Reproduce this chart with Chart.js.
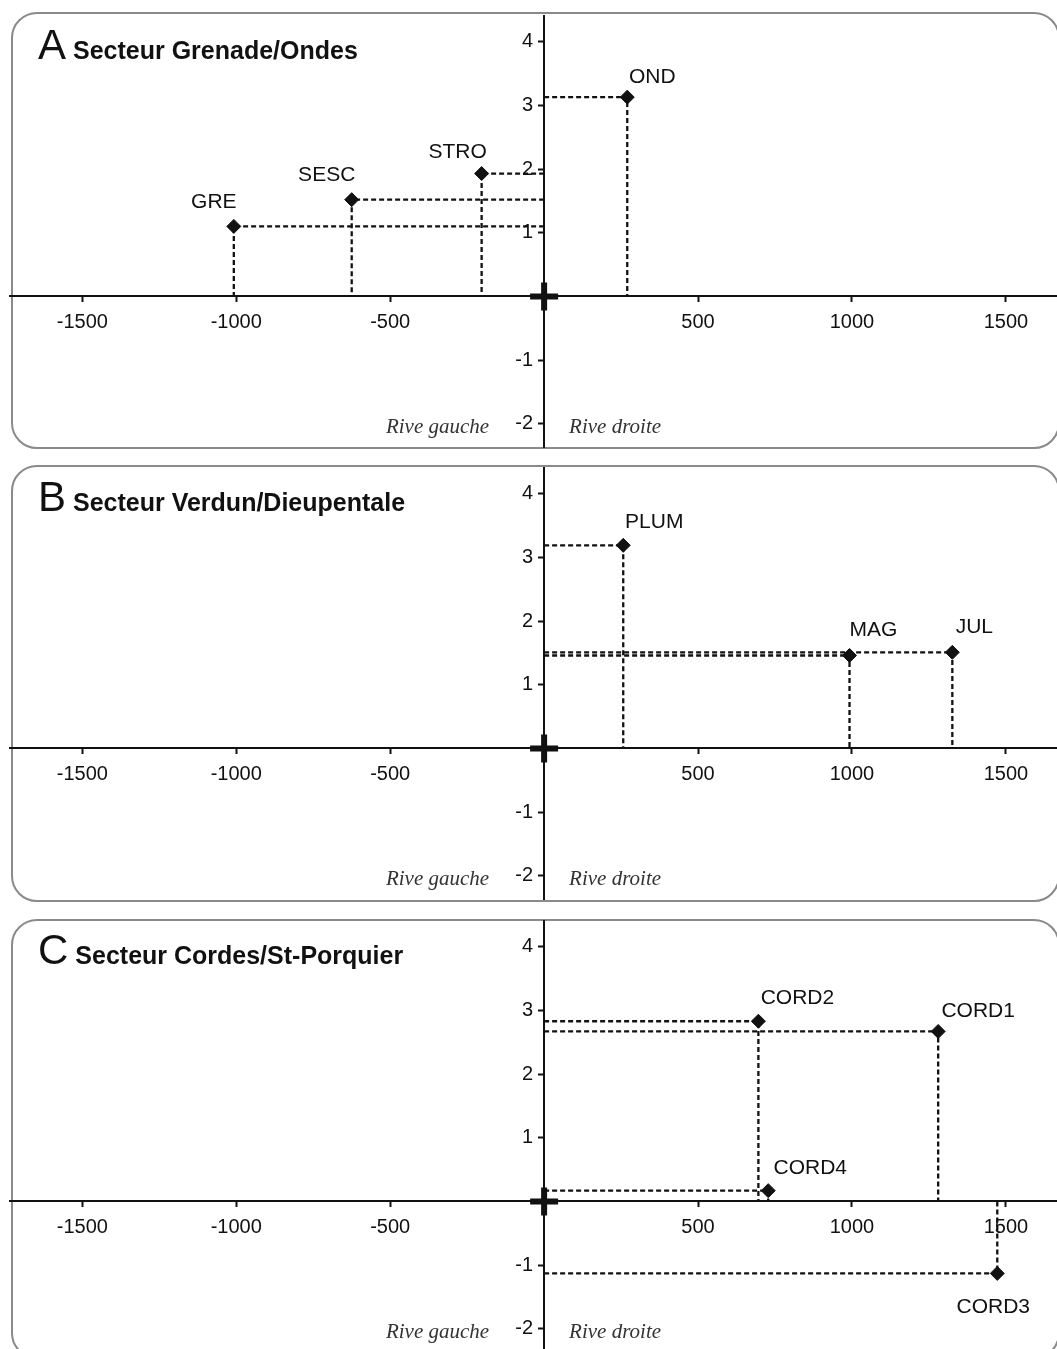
<!DOCTYPE html>
<html>
<head>
<meta charset="utf-8">
<script src="https://cdn.jsdelivr.net/npm/chart.js@4.4.1/dist/chart.umd.min.js"></script>
<style>
  body { margin: 0; background: #fff; width: 1057px; height: 1349px; overflow: hidden; position: relative; }
  .panel { position: absolute; left: 11px; width: 1049px; border: 2px solid #8a8a8a; border-radius: 26px; box-sizing: border-box; }
  canvas { position: absolute; left: 0; }
</style>
</head>
<body>
<div class="panel" style="top:12px;height:437px"></div>
<div class="panel" style="top:465px;height:437px"></div>
<div class="panel" style="top:919px;height:440px"></div>
<canvas id="chartA" width="1057" height="433" style="top:15px"></canvas>
<canvas id="chartB" width="1057" height="433" style="top:467px"></canvas>
<canvas id="chartC" width="1057" height="433" style="top:920px"></canvas>
<script>
const FONT = '"Liberation Sans", Arial, sans-serif';

const letters = ['A', 'B', 'C'];
const titles = ['Secteur Grenade/Ondes', 'Secteur Verdun/Dieupentale', 'Secteur Cordes/St-Porquier'];

const stationsA = ['GRE', 'SESC', 'STRO', 'OND'];
const xA = [-1008, -625, -203, 270];
const yA = [1.10, 1.52, 1.93, 3.13];

const stationsB = ['PLUM', 'MAG', 'JUL'];
const xB = [257, 992, 1326];
const yB = [3.19, 1.46, 1.51];

const stationsC = ['CORD2', 'CORD1', 'CORD4', 'CORD3'];
const xC = [696, 1280, 728, 1472];
const yC = [2.83, 2.67, 0.17, -1.13];

const xTicks = [-1500, -1000, -500, 500, 1000, 1500];
const yTicks = [-2, -1, 1, 2, 3, 4];

// where each station name sits relative to its marker (px)
const labelShiftA = [[-20, -24], [-25, -24], [-24, -21], [25, -20]];
const labelShiftB = [[31, -23], [24, -25], [22, -25]];
const labelShiftC = [[39, -23], [40, -20], [42, -22], [-4, 34]];

// names, title and "Rive" captions drawn on top of the chart
const panelText = {
  id: 'panelText',
  afterDraw(chart, args, opts) {
    const ctx = chart.ctx;
    const x0 = chart.scales.x.getPixelForValue(0);
    const y0 = chart.scales.y.getPixelForValue(0);
    ctx.save();
    ctx.fillStyle = '#111';

    // station names
    ctx.font = '21px ' + FONT;
    ctx.textAlign = 'center';
    ctx.textBaseline = 'middle';
    opts.names.forEach((name, i) => {
      const pt = chart.getDatasetMeta(i).data[1];
      ctx.fillText(name, pt.x + opts.shift[i][0], pt.y + opts.shift[i][1]);
    });

    // sector title
    ctx.textAlign = 'left';
    ctx.textBaseline = 'alphabetic';
    ctx.font = '42px ' + FONT;
    ctx.fillText(opts.letter, 38, y0 - 237);
    const w = ctx.measureText(opts.letter).width;
    ctx.font = 'bold 25px ' + FONT;
    ctx.fillText(opts.title, 38 + w + 7, y0 - 237);

    // river banks
    const yb = chart.scales.y.getPixelForValue(-2) + 9;
    ctx.font = 'italic 21px "Liberation Serif", "Times New Roman", serif';
    ctx.fillStyle = '#333';
    ctx.textAlign = 'right';
    ctx.fillText('Rive gauche', x0 - 55, yb);
    ctx.textAlign = 'left';
    ctx.fillText('Rive droite', x0 + 25, yb);
    ctx.restore();
  }
};

// axes cross in the middle, so they must not push the chart area inwards
const noPadding = s => {
  s.paddingTop = s.paddingBottom = s.paddingLeft = s.paddingRight = 0;
};

function makePanel(id, idx, names, xs, ys, shift) {
  const datasets = names.map((name, i) => ({
    label: name,
    data: [{x: 0, y: ys[i]}, {x: xs[i], y: ys[i]}, {x: xs[i], y: 0}],
    showLine: true,
    borderColor: '#111',
    borderWidth: 2.3,
    borderDash: [5, 3],
    pointStyle: 'rectRot',
    pointRadius: [0, 7, 0],
    pointBackgroundColor: '#111',
    pointBorderColor: '#111',
    pointBorderWidth: 1
  }));
  // bold cross at the origin
  datasets.push({
    label: 'origine',
    data: [{x: 0, y: 0}],
    pointStyle: 'cross',
    pointRadius: 14,
    pointBorderWidth: 6,
    pointBorderColor: '#111'
  });

  return new Chart(document.getElementById(id), {
    type: 'scatter',
    data: { datasets },
    options: {
      responsive: false,
      animation: false,
      devicePixelRatio: 1,
      layout: { autoPadding: false, padding: { left: 10, right: 0, top: 0, bottom: 0 } },
      plugins: {
        legend: { display: false },
        tooltip: { enabled: false },
        panelText: { letter: letters[idx], title: titles[idx], names, shift }
      },
      scales: {
        x: {
          type: 'linear',
          min: -1735,
          max: 1666,
          position: { y: 0 },
          afterBuildTicks: s => { s.ticks = xTicks.map(v => ({ value: v })); },
          afterFit: noPadding,
          grid: { drawOnChartArea: false, drawTicks: true, tickLength: 5, tickColor: '#111', tickWidth: 2 },
          border: { display: true, color: '#111', width: 2 },
          ticks: { color: '#111', font: { family: FONT, size: 20 }, padding: 9, maxRotation: 0, autoSkip: false, callback: v => String(v) }
        },
        y: {
          type: 'linear',
          min: -2.38,
          max: 4.42,
          position: { x: 0 },
          afterBuildTicks: s => { s.ticks = yTicks.map(v => ({ value: v })); },
          afterFit: noPadding,
          grid: { drawOnChartArea: false, drawTicks: true, tickLength: 5, tickColor: '#111', tickWidth: 2 },
          border: { display: true, color: '#111', width: 2 },
          ticks: { color: '#111', font: { family: FONT, size: 20 }, autoSkip: false, callback: v => v + '  ' }
        }
      }
    },
    plugins: [panelText]
  });
}

makePanel('chartA', 0, stationsA, xA, yA, labelShiftA);
makePanel('chartB', 1, stationsB, xB, yB, labelShiftB);
makePanel('chartC', 2, stationsC, xC, yC, labelShiftC);
</script>
</body>
</html>
